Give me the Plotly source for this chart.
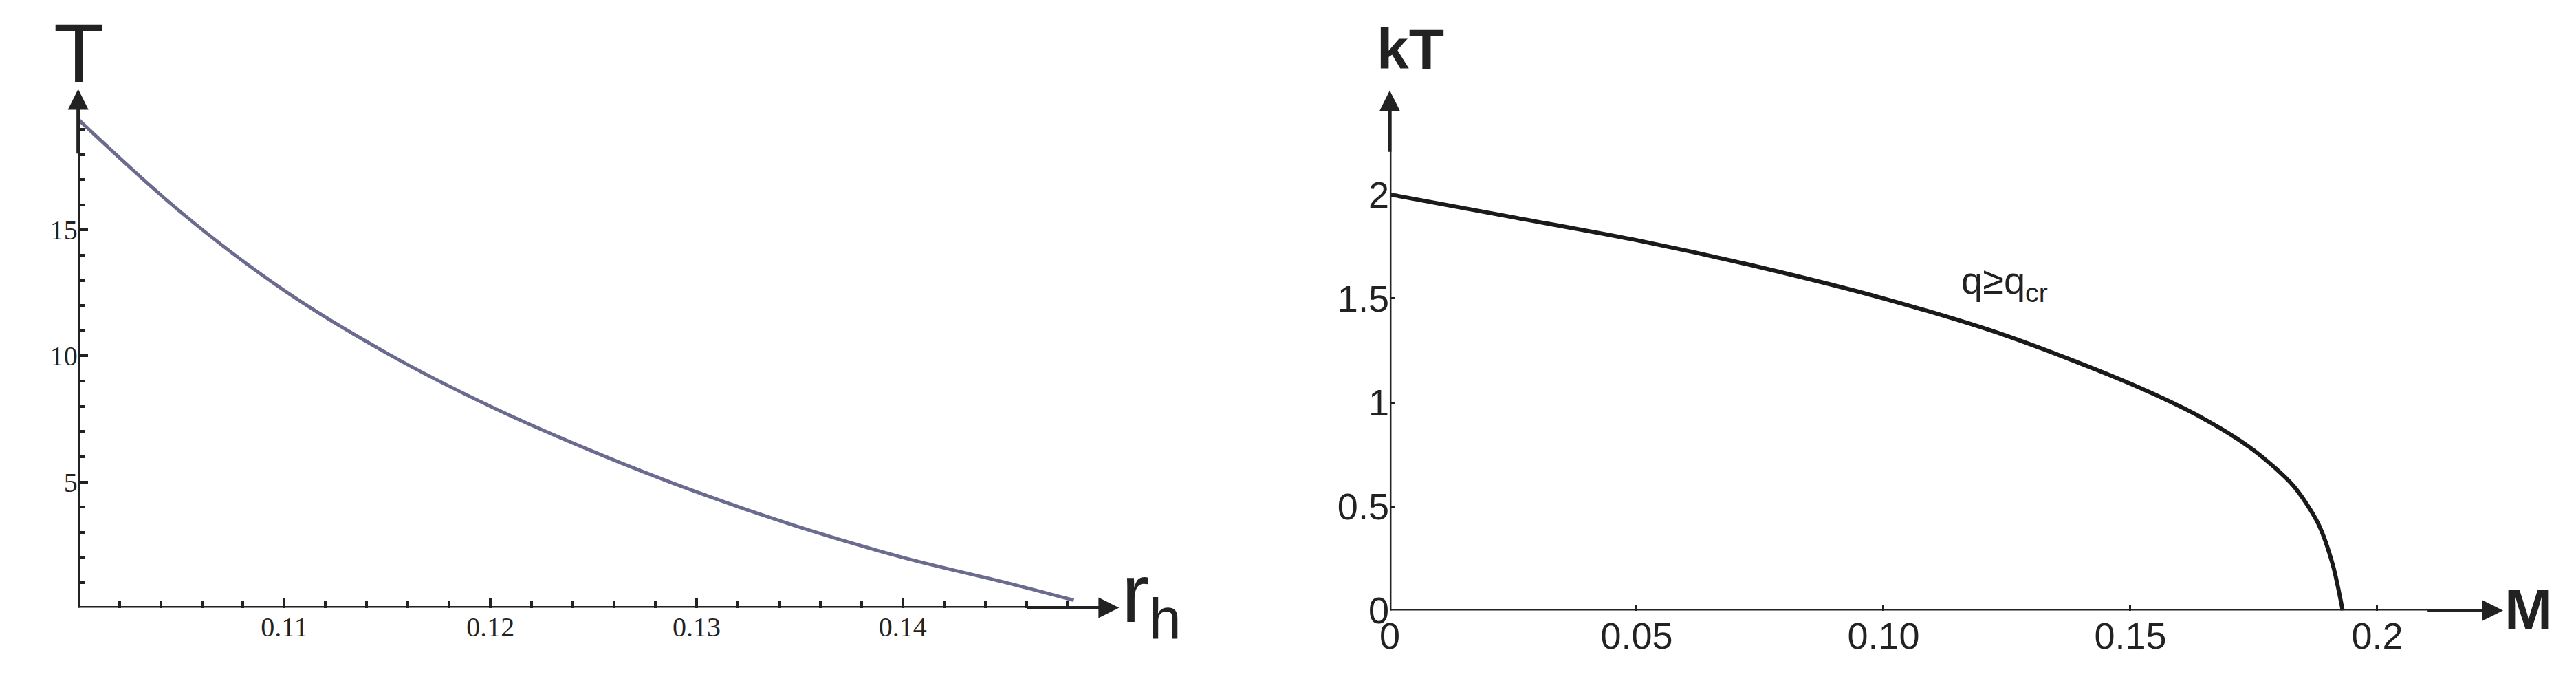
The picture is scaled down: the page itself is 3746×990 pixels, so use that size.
import plotly.graph_objects as go

# Left panel: T vs r_h
rh = [0.1, 0.105, 0.11, 0.115, 0.12, 0.125, 0.13, 0.135, 0.14, 0.145, 0.1483]
T = [19.4, 15.7, 12.6, 10.1, 8.0, 6.2, 4.6, 3.2, 2.0, 1.0, 0.3]
# Right panel: kT vs M
M = [0.0, 0.025, 0.05, 0.075, 0.10, 0.125, 0.15, 0.165, 0.175, 0.183, 0.188, 0.191, 0.193]
kT = [2.0, 1.89, 1.78, 1.65, 1.50, 1.32, 1.09, 0.92, 0.77, 0.60, 0.42, 0.22, 0.0]

left_xticks = [0.11, 0.12, 0.13, 0.14]
left_yticks = [5, 10, 15]
right_xticks = [0, 0.05, 0.10, 0.15, 0.2]
right_xlabels = ["0", "0.05", "0.10", "0.15", "0.2"]
right_yticks = [0, 0.5, 1, 1.5, 2]
right_ylabels = ["0", "0.5", "1", "1.5", "2"]

fig = go.Figure()
fig.add_trace(go.Scatter(x=rh, y=T, mode="lines", line=dict(color="#6b6a8f", width=5, shape="spline", smoothing=1.0),
                         xaxis="x", yaxis="y", showlegend=False))
fig.add_trace(go.Scatter(x=M, y=kT, mode="lines", line=dict(color="#1a1a1a", width=6, shape="spline", smoothing=0.8),
                         xaxis="x2", yaxis="y2", showlegend=False))

serif = dict(family="Liberation Serif", size=40, color="#222")
sans = dict(family="Liberation Sans Narrow, Liberation Sans", size=54, color="#222")
axc = dict(showgrid=False, zeroline=False, showline=False)

fig.update_layout(
    width=3746, height=990, margin=dict(l=0, r=0, t=0, b=0),
    paper_bgcolor="white", plot_bgcolor="white",
    xaxis=dict(domain=[0.0243, 0.426], range=[0.1, 0.15], tickvals=left_xticks,
               ticks="inside", ticklen=14, tickwidth=4, tickcolor="#222", tickfont=serif,
               minor=dict(dtick=0.002, ticks="inside", ticklen=10, tickwidth=4, tickcolor="#222"),
               anchor="y", **axc),
    yaxis=dict(domain=[0.088, 0.862], range=[0, 20.3], tickvals=left_yticks,
               ticks="inside", ticklen=14, tickwidth=4, tickcolor="#222", tickfont=serif,
               minor=dict(dtick=1, ticks="inside", ticklen=10, tickwidth=4, tickcolor="#222"),
               anchor="x", **axc),
    xaxis2=dict(domain=[0.5355, 0.9656], range=[0, 0.2235], tickvals=right_xticks, ticktext=right_xlabels,
                ticks="inside", ticklen=8, tickwidth=3, tickcolor="#222", tickfont=sans,
                anchor="y2", **axc),
    yaxis2=dict(domain=[0.0838, 0.862], range=[0, 2.47], tickvals=right_yticks, ticktext=right_ylabels,
                ticks="inside", ticklen=8, tickwidth=3, tickcolor="#222", tickfont=sans,
                anchor="x2", **axc),
)

ln = dict(color="#222", width=5)
fig.add_shape(type="line", x0=0.0992, x1=0.1495, y0=0, y1=0, xref="x", yref="y", line=ln)
fig.add_shape(type="line", x0=0.1, x1=0.1, y0=-0.9, y1=20.0, xref="x", yref="y", line=ln)
fig.add_shape(type="line", x0=-0.0008, x1=0.222, y0=0, y1=0, xref="x2", yref="y2", line=ln)
fig.add_shape(type="line", x0=0, x1=0, y0=-0.02, y1=2.45, xref="x2", yref="y2", line=ln)

arrow = dict(showarrow=True, arrowhead=2, arrowsize=1.2, arrowwidth=5, arrowcolor="#222", text="")
fig.add_annotation(x=0.1505, y=0, ax=0.146, ay=0, xref="x", yref="y", axref="x", ayref="y", **arrow)
fig.add_annotation(x=0.1, y=20.6, ax=0.1, ay=18, xref="x", yref="y", axref="x", ayref="y", **arrow)
fig.add_annotation(x=0.2255, y=0, ax=0.21, ay=0, xref="x2", yref="y2", axref="x2", ayref="y2", **arrow)
fig.add_annotation(x=0, y=2.5, ax=0, ay=2.2, xref="x2", yref="y2", axref="x2", ayref="y2", **arrow)

fig.add_annotation(x=0.0245, y=1.0, xref="paper", yref="paper", text="T", showarrow=False,
                   font=dict(family="Liberation Sans", size=120, color="#222"), xanchor="center", yanchor="top")
fig.add_annotation(x=0.4305, y=0.02, xref="paper", yref="paper", text="r<sub>h</sub>", showarrow=False,
                   font=dict(family="Liberation Sans", size=120, color="#222"), xanchor="left", yanchor="bottom")
fig.add_annotation(x=0.5435, y=0.985, xref="paper", yref="paper", text="<b>kT</b>", showarrow=False,
                   font=dict(family="Liberation Sans", size=84, color="#222"), xanchor="center", yanchor="top")
fig.add_annotation(x=0.9695, y=0.085, xref="paper", yref="paper", text="<b>M</b>", showarrow=False,
                   font=dict(family="Liberation Sans", size=84, color="#222"), xanchor="left", yanchor="middle")
fig.add_annotation(x=0.1155, y=1.45, xref="x2", yref="y2", text="q≥q<sub>cr</sub>", showarrow=False,
                   font=dict(family="Liberation Sans", size=56, color="#222"), xanchor="left", yanchor="bottom")

fig.write_html("out.html")
